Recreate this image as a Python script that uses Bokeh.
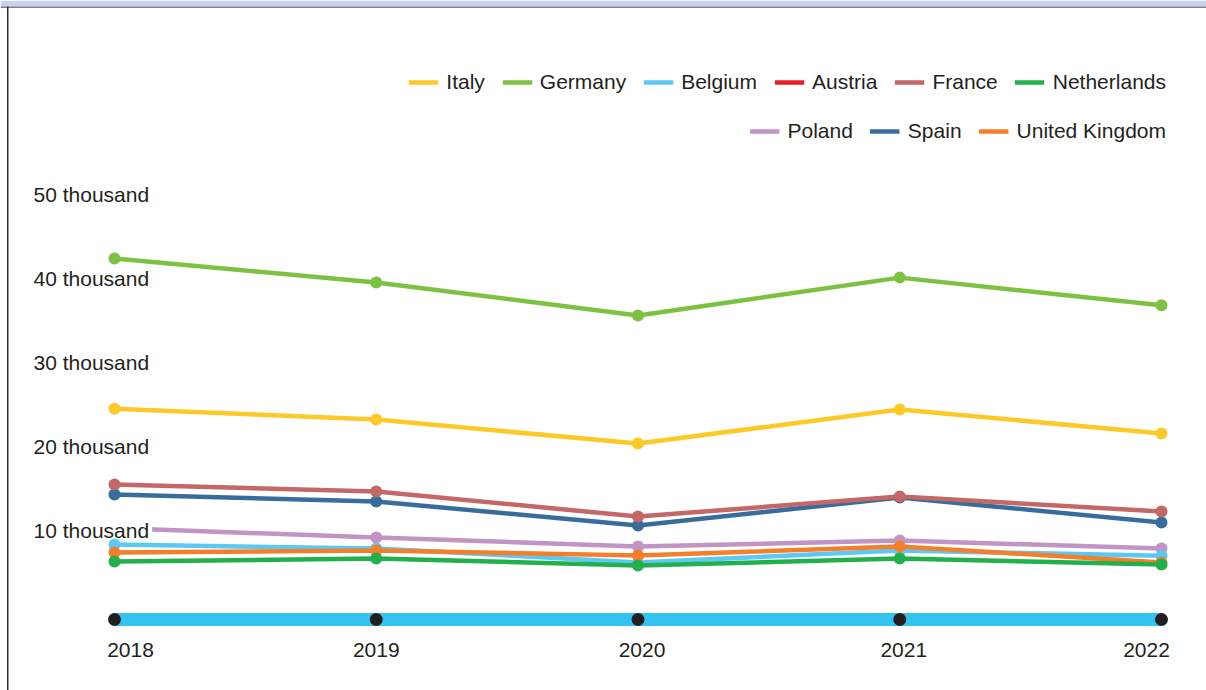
from bokeh.plotting import figure
from bokeh.models import Range1d, Legend, LegendItem, ColumnDataSource
from bokeh.core.properties import value
from bokeh.embed import file_html
from bokeh.resources import INLINE

# ---------------- data ----------------
years = [2018, 2019, 2020, 2021, 2022]
year_labels = ["2018", "2019", "2020", "2021", "2022"]

italy = [25100, 23800, 20950, 25000, 22150]
germany = [42980, 40120, 36200, 40700, 37400]
belgium = [8930, 8450, 6800, 8200, 7600]
austria = [None, None, None, None, None]  # no visible values in the chart
france = [16070, 15240, 12260, 14640, 12860]
netherlands = [6900, 7260, 6430, 7260, 6550]
poland = [10890, 9760, 8690, 9400, 8450]
spain = [14880, 14050, 11190, 14520, 11550]
united_kingdom = [7980, 8210, 7620, 8690, 6790]
baseline = [0, 0, 0, 0, 0]

y_tick_values = [10000, 20000, 30000, 40000, 50000]
y_tick_labels = ["10 thousand", "20 thousand", "30 thousand", "40 thousand", "50 thousand"]

legend_row1 = ["Italy", "Germany", "Belgium", "Austria", "France", "Netherlands"]
legend_row2 = ["Poland", "Spain", "United Kingdom"]

# ---------------- styles ----------------
colors = {
    "Italy": "#fcc927",
    "Germany": "#7dc142",
    "Belgium": "#5bc9f4",
    "Austria": "#ed1c24",
    "France": "#c46767",
    "Netherlands": "#22b04c",
    "Poland": "#c293c5",
    "Spain": "#376c9c",
    "United Kingdom": "#f47f2b",
}
series = {
    "Italy": italy, "Germany": germany, "Belgium": belgium, "Austria": austria,
    "France": france, "Netherlands": netherlands, "Poland": poland,
    "Spain": spain, "United Kingdom": united_kingdom,
}
FONT = "Liberation Sans"
TXT = "#231f20"

W, H = 1206, 690
PX_PER_YEAR = 261.75
X_LEFT_PX = 114
PX_PER_UNIT = 8.4 / 1000.0
ZERO_PX = 619

x0 = years[0] - X_LEFT_PX / PX_PER_YEAR
x1 = x0 + W / PX_PER_YEAR
y_top = ZERO_PX / PX_PER_UNIT
y_bot = y_top - H / PX_PER_UNIT


def px2x(px):
    return x0 + px / PX_PER_YEAR


def py2y(py):
    return y_top - py / PX_PER_UNIT


p = figure(width=W, height=H, min_border=0, x_range=Range1d(x0, x1),
           y_range=Range1d(y_bot, y_top), toolbar_location=None,
           output_backend="svg", x_axis_location=None, y_axis_location=None)
p.grid.visible = False
p.outline_line_color = None
p.background_fill_color = "white"
p.border_fill_color = "white"

# frame decoration
p.quad(left=[x0], right=[x1], top=[y_top], bottom=[py2y(6)], fill_color="#c6d3ea", line_color=None)
p.quad(left=[x0], right=[x1], top=[py2y(6)], bottom=[py2y(7.5)], fill_color="#7b7e87", line_color=None)
p.quad(left=[px2x(6.5)], right=[px2x(8)], top=[py2y(6)], bottom=[y_bot], fill_color="#2b2b2b", line_color=None)

# baseline band with dots
p.line(years, baseline, line_color="#33c3f0", line_width=13)
p.scatter(years, baseline, size=13, fill_color="#231f20", line_color=None)

renderers = {}


def draw(name):
    vals = [float("nan") if v is None else v for v in series[name]]
    r = p.line(years, vals, line_color=colors[name], line_width=4.5)
    p.scatter(years, vals, size=12, fill_color=colors[name], line_color=None)
    renderers[name] = r


draw("Poland")

# y labels (drawn over Poland start)
p.text(x=[x0] * len(y_tick_values), y=y_tick_values, text=y_tick_labels,
       x_offset=30, y_offset=-5, text_align="left", text_baseline="middle",
       text_font=value(FONT), text_font_size="21px", text_color=TXT,
       background_fill_color="white", padding=3)

for nm in ["Austria", "Belgium", "United Kingdom", "Netherlands", "Spain", "France", "Germany", "Italy"]:
    draw(nm)

# x labels
x_label_offsets = [16, 0, 4, 4, -15]
src = ColumnDataSource(dict(x=years, y=baseline, t=year_labels, xo=x_label_offsets))
p.text(x="x", y="y", text="t", x_offset="xo", y_offset=30, source=src,
       text_align="center", text_baseline="middle", text_font=value(FONT),
       text_font_size="21px", text_color=TXT)


def make_legend(names, gh):
    lg = Legend(items=[LegendItem(label=n, renderers=[renderers[n]]) for n in names],
                orientation="horizontal", location="top_right", margin=40, padding=0,
                spacing=17, label_standoff=8, glyph_width=30, glyph_height=gh,
                label_text_font=FONT, label_text_font_size="21px",
                label_text_color=TXT, background_fill_alpha=0, border_line_alpha=0)
    return lg


p.add_layout(make_legend(legend_row1, 84), "center")
p.add_layout(make_legend(legend_row2, 182), "center")

open("out.html", "w").write(file_html(p, INLINE))
